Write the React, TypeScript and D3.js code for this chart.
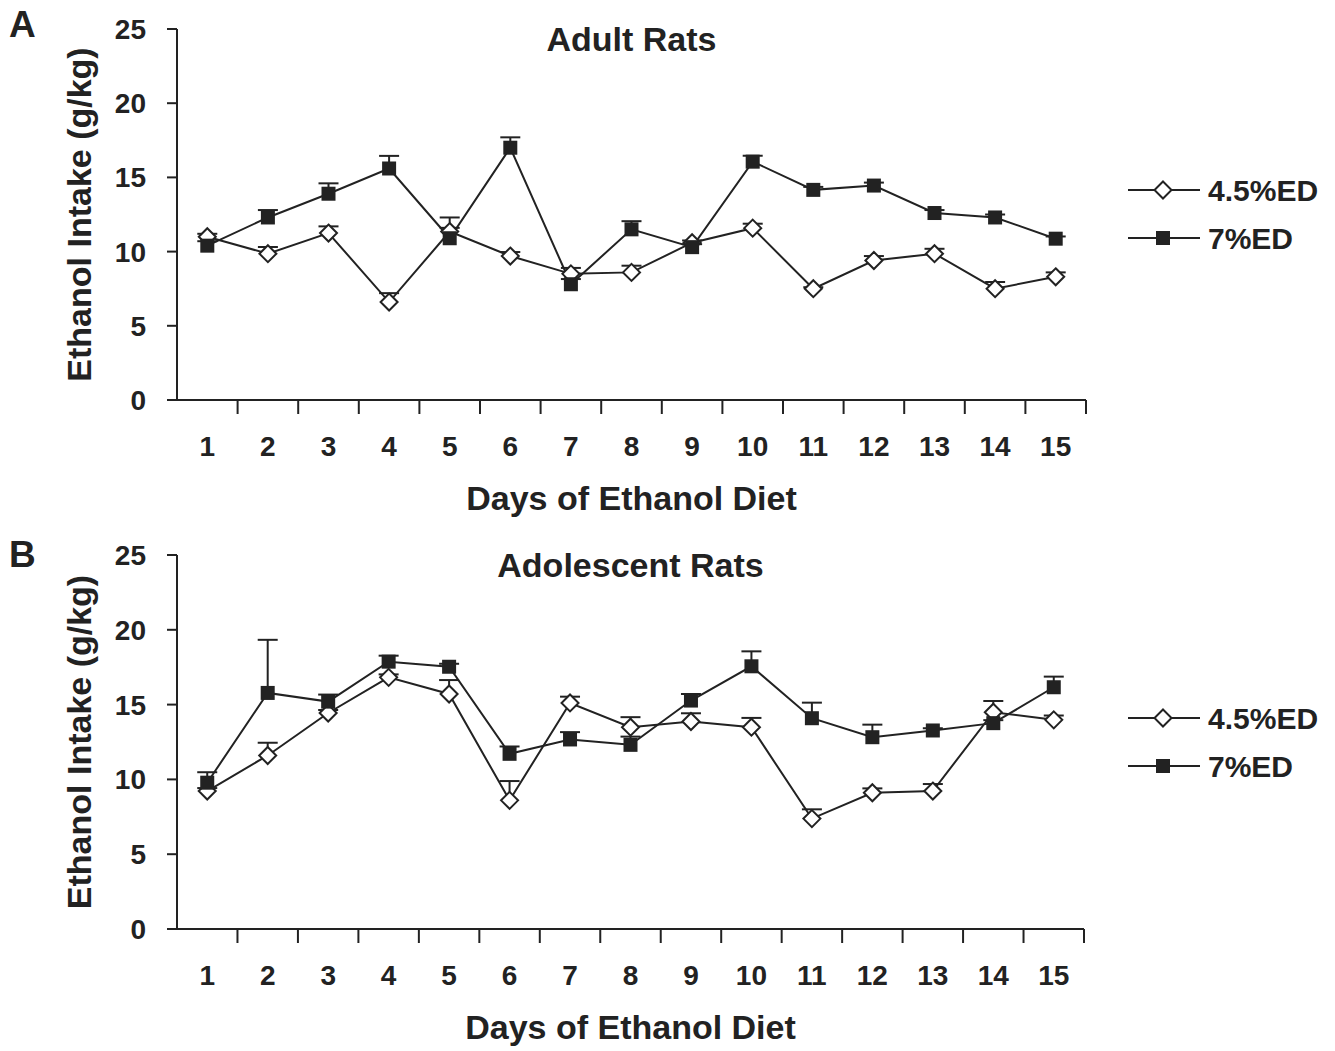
import React from "react";
import * as d3 from "d3";

const days = [1, 2, 3, 4, 5, 6, 7, 8, 9, 10, 11, 12, 13, 14, 15];
const yTicks = [0, 5, 10, 15, 20, 25];
const seriesNames = ["4.5%ED", "7%ED"];

// Panel A: Adult Rats
const adultLow = [11.0, 9.86, 11.25, 6.6, 11.35, 9.7, 8.5, 8.6, 10.6, 11.58, 7.5, 9.4, 9.86, 7.5, 8.3];
const adultLowErr = [0.2, 0.45, 0.45, 0.6, 0.25, 0.27, 0.4, 0.45, 0.15, 0.3, 0.1, 0.3, 0.33, 0.45, 0.3];
const adultHigh = [10.4, 12.3, 13.9, 15.6, 10.9, 17.0, 7.8, 11.5, 10.3, 16.06, 14.16, 14.45, 12.6, 12.3, 10.87];
const adultHighErr = [0.3, 0.5, 0.7, 0.85, 1.4, 0.7, 0.35, 0.55, 0.2, 0.4, 0.2, 0.2, 0.2, 0.2, 0.15];

// Panel B: Adolescent Rats
const adolLow = [9.22, 11.6, 14.44, 16.82, 15.71, 8.6, 15.11, 13.49, 13.87, 13.49, 7.38, 9.11, 9.22, 14.49, 13.98];
const adolLowErr = [0.2, 0.85, 0.2, 0.2, 0.93, 1.29, 0.42, 0.67, 0.55, 0.62, 0.62, 0.29, 0.47, 0.75, 0.29];
const adolHigh = [9.78, 15.78, 15.2, 17.87, 17.53, 11.71, 12.67, 12.31, 15.27, 17.56, 14.09, 12.82, 13.27, 13.76, 16.16];
const adolHighErr = [0.7, 3.55, 0.47, 0.4, 0.2, 0.49, 0.49, 0.55, 0.44, 1.0, 1.04, 0.84, 0.15, 0.2, 0.71];

const INK = "#222";
const FONT = "'Liberation Sans', Arial, Helvetica, sans-serif";

type PanelProps = {
  letter: string;
  letterY: number;
  title: string;
  low: number[];
  lowErr: number[];
  high: number[];
  highErr: number[];
  x0: number;
  x1: number;
  yTop: number;
  yBottom: number;
  legendY: number;
};

function Diamond({ cx, cy }: { cx: number; cy: number }) {
  const r = 8.5;
  return (
    <path
      d={`M${cx},${cy - r}L${cx + r},${cy}L${cx},${cy + r}L${cx - r},${cy}Z`}
      fill="#fff"
      stroke={INK}
      strokeWidth={2}
    />
  );
}

function Square({ cx, cy }: { cx: number; cy: number }) {
  const s = 14;
  return <rect x={cx - s / 2} y={cy - s / 2} width={s} height={s} fill={INK} />;
}

function Panel(p: PanelProps) {
  const x = d3.scaleBand<number>().domain(days).range([p.x0, p.x1]).padding(0);
  const y = d3.scaleLinear().domain([0, 25]).range([p.yBottom, p.yTop]);
  const cx = (d: number) => (x(d) as number) + x.bandwidth() / 2;
  const line = d3
    .line<number>()
    .x((_, i) => cx(days[i]))
    .y((v) => y(v));
  const boundaries = days.map((d) => (x(d) as number) + x.bandwidth());
  const midX = (p.x0 + p.x1) / 2;

  const errBars = (vals: number[], errs: number[], key: string) =>
    vals.map((v, i) => {
      const xx = cx(days[i]);
      const top = y(v + errs[i]);
      return (
        <g key={key + i}>
          <line x1={xx} x2={xx} y1={y(v)} y2={top} stroke={INK} strokeWidth={2} />
          <line x1={xx - 10} x2={xx + 10} y1={top} y2={top} stroke={INK} strokeWidth={2} />
        </g>
      );
    });

  return (
    <g>
      <text x={9} y={p.letterY} fontSize={37} fontWeight="bold" fill={INK}>
        {p.letter}
      </text>
      <text x={midX} y={p.yTop + 22} textAnchor="middle" fontSize={34} fontWeight="bold" fill={INK}>
        {p.title}
      </text>
      {/* y axis */}
      <line x1={p.x0} x2={p.x0} y1={p.yTop} y2={p.yBottom} stroke={INK} strokeWidth={2} />
      {yTicks.map((t) => (
        <g key={"yt" + t}>
          <line x1={p.x0 - 10} x2={p.x0} y1={y(t)} y2={y(t)} stroke={INK} strokeWidth={2} />
          <text x={146} y={y(t) + 10} textAnchor="end" fontSize={28} fontWeight="bold" fill={INK}>
            {t}
          </text>
        </g>
      ))}
      <text
        transform={`translate(${91},${(p.yTop + p.yBottom) / 2}) rotate(-90)`}
        textAnchor="middle"
        fontSize={34}
        fontWeight="bold"
        fill={INK}
      >
        Ethanol Intake (g/kg)
      </text>
      {/* x axis */}
      <line x1={p.x0} x2={p.x1} y1={p.yBottom} y2={p.yBottom} stroke={INK} strokeWidth={2} />
      {boundaries.map((b, i) => (
        <line key={"xt" + i} x1={b} x2={b} y1={p.yBottom} y2={p.yBottom + 14} stroke={INK} strokeWidth={2} />
      ))}
      {days.map((d) => (
        <text key={"xl" + d} x={cx(d)} y={p.yBottom + 56} textAnchor="middle" fontSize={28} fontWeight="bold" fill={INK}>
          {d}
        </text>
      ))}
      <text x={midX} y={p.yBottom + 110} textAnchor="middle" fontSize={34} fontWeight="bold" fill={INK}>
        Days of Ethanol Diet
      </text>
      {/* error bars */}
      {errBars(p.low, p.lowErr, "le")}
      {errBars(p.high, p.highErr, "he")}
      {/* lines */}
      <path d={line(p.low) || ""} fill="none" stroke={INK} strokeWidth={2} />
      <path d={line(p.high) || ""} fill="none" stroke={INK} strokeWidth={2} />
      {p.low.map((v, i) => (
        <Diamond key={"d" + i} cx={cx(days[i])} cy={y(v)} />
      ))}
      {p.high.map((v, i) => (
        <Square key={"s" + i} cx={cx(days[i])} cy={y(v)} />
      ))}
      {/* legend */}
      {seriesNames.map((name, i) => {
        const ly = p.legendY + i * 48;
        return (
          <g key={"lg" + i}>
            <line x1={1128} x2={1200} y1={ly} y2={ly} stroke={INK} strokeWidth={2} />
            {i === 0 ? <Diamond cx={1163} cy={ly} /> : <Square cx={1163} cy={ly} />}
            <text x={1208} y={ly + 11} fontSize={30} fontWeight="bold" fill={INK}>
              {name}
            </text>
          </g>
        );
      })}
    </g>
  );
}

export default function App() {
  return (
    <svg
      width={1335}
      height={1051}
      style={{ display: "block", position: "absolute", left: 0, top: 0, fontFamily: FONT, background: "#fff" }}
    >
      <rect width={1335} height={1051} fill="#fff" />
      <Panel
        letter="A"
        letterY={37}
        title="Adult Rats"
        low={adultLow}
        lowErr={adultLowErr}
        high={adultHigh}
        highErr={adultHighErr}
        x0={177}
        x1={1086}
        yTop={29}
        yBottom={400}
        legendY={190}
      />
      <Panel
        letter="B"
        letterY={567}
        title="Adolescent Rats"
        low={adolLow}
        lowErr={adolLowErr}
        high={adolHigh}
        highErr={adolHighErr}
        x0={177}
        x1={1084}
        yTop={555}
        yBottom={929}
        legendY={718}
      />
    </svg>
  );
}
